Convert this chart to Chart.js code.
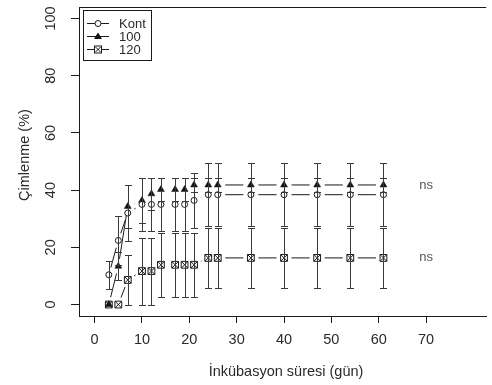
<!DOCTYPE html>
<html>
<head>
<meta charset="utf-8">
<script src="https://cdn.jsdelivr.net/npm/chart.js@4.4.1/dist/chart.umd.min.js"></script>
<style>
  html, body { margin: 0; padding: 0; background: #fff; }
  canvas { display: block; }
</style>
</head>
<body>
<canvas id="chart" width="492" height="385"></canvas>
<script>
// Germination (%) over incubation time, three treatments
const days = [3, 5, 7, 10, 12, 14, 17, 19, 21, 24, 26, 33, 40, 47, 54, 61];

const kont    = [10.4, 22.4, 32.0, 35.0, 35.0, 35.0, 35.0, 35.0, 36.4, 38.4, 38.4, 38.4, 38.4, 38.4, 38.4, 38.4];
const kontErr = [4.8, 8.4, 9.8, 9.2, 9.2, 9.3, 9.3, 9.3, 9.6, 11.0, 11.0, 11.0, 11.0, 11.0, 11.0, 11.0];

const s100    = [0, 13.4, 34.3, 36.4, 38.7, 40.2, 40.2, 40.2, 41.8, 41.8, 41.8, 41.8, 41.8, 41.8, 41.8, 41.8];
const err100  = [0, 4.8, 7.5, 7.8, 5.5, 4.1, 4.1, 4.1, 2.6, 2.6, 2.6, 2.6, 2.6, 2.6, 2.6, 2.6];

const s120    = [0, 0, 8.6, 11.7, 11.7, 13.9, 13.9, 13.9, 13.9, 16.3, 16.3, 16.3, 16.3, 16.3, 16.3, 16.3];
const err120  = [0, 0, 8.6, 11.7, 11.7, 11.2, 11.2, 11.2, 11.1, 10.4, 10.4, 10.4, 10.4, 10.4, 10.4, 10.4];

const seriesNames = ['Kont', '100', '120'];
const xTicks = [0, 10, 20, 30, 40, 50, 60, 70];
const yTicks = [0, 20, 40, 60, 80, 100];
const nsLabels = [{ x: 70, y: 41.8, text: 'ns' }, { x: 70, y: 16.3, text: 'ns' }];

const INK = '#1a1a1a';
const TXT = '#2a2a2a';
const FONT = '"Liberation Sans", Arial, sans-serif';
const GAP = 7.5; // R type="b" gap around each point

function segLen(ctx) {
    return Math.hypot(ctx.p1.x - ctx.p0.x, ctx.p1.y - ctx.p0.y);
}
const gappedSegment = {
    borderDash: ctx => {
        const L = segLen(ctx);
        return L > 2 * GAP ? [L - 2 * GAP, 2 * GAP] : [0, L + 1];
    },
    borderDashOffset: ctx => {
        const L = segLen(ctx);
        return L > 2 * GAP ? L - GAP : 0;
    }
};

function points(vals) {
    return days.map((d, i) => ({ x: d, y: vals[i] }));
}

const errs = [kontErr, err100, err120];
const vals = [kont, s100, s120];

const errorBars = {
    id: 'errorBars',
    afterDatasetsDraw(chart) {
        const ctx = chart.ctx;
        const xs = chart.scales.x, ys = chart.scales.y;
        ctx.save();
        ctx.strokeStyle = '#3a3a3a';
        ctx.lineWidth = 1;
        vals.forEach((v, s) => {
            days.forEach((d, i) => {
                const e = errs[s][i];
                if (!e) return;
                const x = Math.round(xs.getPixelForValue(d)) + 0.5;
                const y1 = Math.round(ys.getPixelForValue(v[i] + e)) + 0.5;
                const y2 = Math.round(ys.getPixelForValue(Math.max(0, v[i] - e))) + 0.5;
                ctx.beginPath();
                ctx.moveTo(x, y1); ctx.lineTo(x, y2);
                ctx.moveTo(x - 3.5, y1); ctx.lineTo(x + 3.5, y1);
                ctx.moveTo(x - 3.5, y2); ctx.lineTo(x + 3.5, y2);
                ctx.stroke();
            });
        });
        ctx.restore();
    }
};

const rDecor = {
    id: 'rDecor',
    afterDraw(chart) {
        const ctx = chart.ctx;
        const a = chart.chartArea;
        const xs = chart.scales.x, ys = chart.scales.y;
        ctx.save();
        // top frame line
        ctx.strokeStyle = INK;
        ctx.lineWidth = 1;
        ctx.beginPath();
        ctx.moveTo(a.left, Math.round(a.top) + 0.5);
        ctx.lineTo(a.right, Math.round(a.top) + 0.5);
        ctx.stroke();

        // rotated y tick labels
        ctx.fillStyle = TXT;
        ctx.font = '14.5px ' + FONT;
        ctx.textAlign = 'center';
        ctx.textBaseline = 'middle';
        yTicks.forEach(t => {
            ctx.save();
            ctx.translate(51, ys.getPixelForValue(t));
            ctx.rotate(-Math.PI / 2);
            ctx.fillText(String(t), 0, 0);
            ctx.restore();
        });

        // axis titles
        ctx.save();
        ctx.translate(25, 155);
        ctx.rotate(-Math.PI / 2);
        ctx.fillText('Çimlenme (%)', 0, 0);
        ctx.restore();
        ctx.fillText('İnkübasyon süresi (gün)', 286, 372);

        // ns labels
        ctx.font = '13px ' + FONT;
        ctx.fillStyle = '#555';
        nsLabels.forEach(n => {
            ctx.fillText(n.text, xs.getPixelForValue(n.x), ys.getPixelForValue(n.y));
        });

        // legend
        ctx.strokeStyle = INK;
        ctx.strokeRect(83.5, 10.5, 68, 50);
        const rows = [23, 36, 49];
        rows.forEach((ry, k) => {
            const cy = ry + 0.5;
            ctx.beginPath();
            ctx.moveTo(87, cy);
            ctx.lineTo(109, cy);
            ctx.stroke();
            if (k === 0) {
                ctx.fillStyle = '#fff';
                ctx.beginPath();
                ctx.arc(98, cy, 3, 0, Math.PI * 2);
                ctx.fill(); ctx.stroke();
            } else if (k === 1) {
                ctx.fillStyle = '#111';
                ctx.beginPath();
                ctx.moveTo(98, ry - 3.5);
                ctx.lineTo(102, ry + 3);
                ctx.lineTo(94, ry + 3);
                ctx.closePath();
                ctx.fill();
            } else {
                ctx.fillStyle = '#fff';
                ctx.fillRect(94.5, cy - 3.5, 7, 7);
                ctx.strokeRect(94.5, cy - 3.5, 7, 7);
                ctx.beginPath();
                ctx.moveTo(95.5, cy - 2.5); ctx.lineTo(100.5, cy + 2.5);
                ctx.moveTo(100.5, cy - 2.5); ctx.lineTo(95.5, cy + 2.5);
                ctx.stroke();
            }
            ctx.fillStyle = TXT;
            ctx.font = '13px ' + FONT;
            ctx.textAlign = 'left';
            ctx.fillText(seriesNames[k], 119, ry + 1);
        });
        ctx.restore();
    }
};

new Chart(document.getElementById('chart'), {
    type: 'line',
    data: {
        datasets: [
            {
                label: seriesNames[0],
                data: points(kont),
                borderColor: INK,
                borderWidth: 1,
                pointStyle: 'circle',
                pointRadius: 3,
                pointBackgroundColor: '#fff',
                pointBorderColor: INK,
                pointBorderWidth: 1,
                segment: gappedSegment,
                order: 1
            },
            {
                label: seriesNames[1],
                data: points(s100),
                borderColor: INK,
                borderWidth: 1,
                pointStyle: 'triangle',
                pointRadius: 4,
                pointBackgroundColor: '#111',
                pointBorderColor: '#111',
                pointBorderWidth: 0.5,
                segment: gappedSegment,
                order: 1
            },
            {
                // 120: x inside the box (R pch 7), carries the line
                label: seriesNames[2],
                data: points(s120),
                borderColor: INK,
                borderWidth: 1,
                pointStyle: 'crossRot',
                pointRadius: 4.6,
                pointBorderColor: INK,
                pointBorderWidth: 1,
                segment: gappedSegment,
                order: 1
            },
            {
                // 120: the box itself
                label: seriesNames[2] + ' box',
                data: points(s120),
                showLine: false,
                pointStyle: 'rect',
                pointRadius: 4.8,
                pointBackgroundColor: '#fff',
                pointBorderColor: INK,
                pointBorderWidth: 1,
                order: 2
            }
        ]
    },
    options: {
        responsive: false,
        animation: false,
        devicePixelRatio: 1,
        layout: { padding: { top: 7, left: 0, right: 0, bottom: 0 } },
        plugins: {
            legend: { display: false },
            tooltip: { enabled: false }
        },
        scales: {
            x: {
                type: 'linear',
                min: -3.3,
                max: 82.7,
                afterBuildTicks: s => { s.ticks = xTicks.map(v => ({ value: v })); },
                afterFit: s => { s.height = 69; },
                grid: { drawOnChartArea: false, tickLength: 7, color: INK },
                border: { display: true, color: INK },
                ticks: {
                    color: TXT,
                    font: { family: FONT, size: 14.5 },
                    padding: 8,
                    maxRotation: 0,
                    autoSkip: false
                }
            },
            y: {
                type: 'linear',
                min: -4,
                max: 104,
                afterBuildTicks: s => { s.ticks = yTicks.map(v => ({ value: v })); },
                afterFit: s => { s.width = 79; },
                grid: { drawOnChartArea: false, tickLength: 8, color: INK },
                border: { display: true, color: INK },
                ticks: { display: false }
            }
        }
    },
    plugins: [errorBars, rDecor]
});
</script>
</body>
</html>
